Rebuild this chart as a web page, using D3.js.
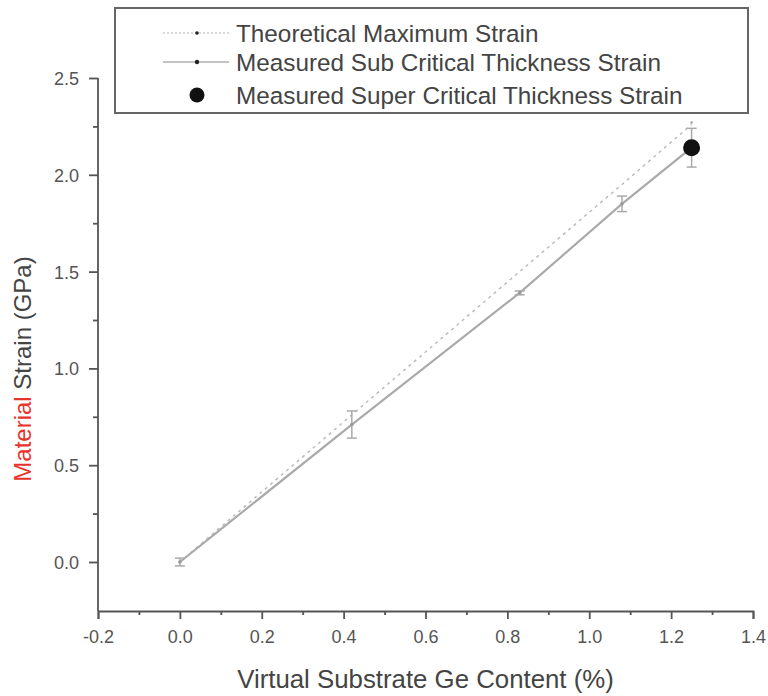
<!DOCTYPE html>
<html>
<head>
<meta charset="utf-8">
<script src="https://cdn.jsdelivr.net/npm/d3@7"></script>
<style>
body { margin: 0; background: #fff; }
svg text { font-family: "Liberation Sans", Arial, sans-serif; }
</style>
</head>
<body>
<div id="chart"></div>
<script>
// data
var geContent = [0, 0.42, 0.83, 1.08, 1.25];
var theoreticalStrain = [0, 0.76, 1.50, 1.95, 2.26];
var measuredSubStrain = [0, 0.71, 1.39, 1.85, 2.14];
var measuredSubErr = [0.02, 0.07, 0.01, 0.04, 0];
var superX = [1.25];
var superStrain = [2.14];
var superErr = [0.1];
var xTicks = [-0.2, 0, 0.2, 0.4, 0.6, 0.8, 1.0, 1.2, 1.4];
var yTicks = [0, 0.5, 1.0, 1.5, 2.0, 2.5];
var legendLabels = ["Theoretical Maximum Strain", "Measured Sub Critical Thickness Strain", "Measured Super Critical Thickness Strain"];

var W = 768, H = 696;
var margin = {left: 98, right: 15, top: 78, bottom: 86};

var svg = d3.select("#chart").append("svg")
	.attr("width", W).attr("height", H);

var x = d3.scaleLinear().domain([-0.2, 1.4]).range([margin.left, 753]);
var y = d3.scaleLinear().domain([0, 2.5]).range([562, 78]);
var yBottom = 611;

var axisColor = "#555";

// x axis
var xAxis = d3.axisBottom(x).tickValues(xTicks).tickSize(8).tickFormat(d3.format(".1f"));
var gx = svg.append("g").attr("transform", "translate(0," + yBottom + ")").call(xAxis);
gx.selectAll(".tick").filter(function(d){ return d === -0.2; }).select("text").text("-0.2");
var gxMinor = svg.append("g").attr("transform", "translate(0," + yBottom + ")")
	.call(d3.axisBottom(x).tickValues(d3.range(-0.1, 1.4, 0.2)).tickSize(4).tickFormat(""));
gxMinor.select(".domain").remove();

// y axis
var yAxis = d3.axisLeft(y).tickValues(yTicks).tickSize(9).tickFormat(d3.format(".1f"));
var gy = svg.append("g").attr("transform", "translate(" + margin.left + ",0)").call(yAxis);
gy.select(".domain").attr("d", "M0," + y(2.5) + "V" + yBottom);
var gyMinor = svg.append("g").attr("transform", "translate(" + margin.left + ",0)")
	.call(d3.axisLeft(y).tickValues([0.25, 0.75, 1.25, 1.75, 2.25]).tickSize(5).tickFormat(""));
gyMinor.select(".domain").remove();

[gx, gy, gxMinor, gyMinor].forEach(function(g){
	g.selectAll("path,line").attr("stroke", axisColor).attr("stroke-width", 1.8);
	g.selectAll("text").attr("fill", "#555").style("font-size", "18px");
});
gx.selectAll("text").attr("y", 0).attr("dy", 0).attr("transform", "translate(0,32)");
gy.selectAll("text").attr("x", -19).attr("dy", "0.36em");

// axis titles
svg.append("text")
	.attr("x", (x(-0.2) + x(1.4)) / 2).attr("y", 688)
	.attr("text-anchor", "middle")
	.attr("fill", "#444").style("font-size", "25.8px")
	.text("Virtual Substrate Ge Content (%)");

var yTitle = svg.append("text")
	.attr("transform", "translate(31,369) rotate(-90)")
	.attr("text-anchor", "middle")
	.style("font-size", "24px");
yTitle.append("tspan").attr("fill", "#e8332d").text("Material ");
yTitle.append("tspan").attr("fill", "#444").text("Strain (GPa)");

// theoretical line (dotted)
var line = d3.line().x(function(d){ return x(d[0]); }).y(function(d){ return y(d[1]); });
var theo = d3.zip(geContent, theoreticalStrain);
svg.append("path").datum(theo)
	.attr("d", line).attr("fill", "none")
	.attr("stroke", "#bbb").attr("stroke-width", 1.5).attr("stroke-dasharray", "3,4");
svg.selectAll(".theoDot").data(theo.slice(4)).enter().append("circle")
	.attr("cx", function(d){ return x(d[0]); }).attr("cy", function(d){ return y(d[1]) - 2; })
	.attr("r", 1.2).attr("fill", "#999");

// measured sub critical
var sub = d3.zip(geContent, measuredSubStrain, measuredSubErr);
svg.append("path").datum(sub)
	.attr("d", line).attr("fill", "none")
	.attr("stroke", "#aaa").attr("stroke-width", 2.2);

function errorBars(data, color){
	var g = svg.append("g").attr("stroke", color).attr("stroke-width", 1.5);
	data.filter(function(d){ return d[2] > 0; }).forEach(function(d){
		var cx = x(d[0]), y1 = y(d[1] + d[2]), y2 = y(d[1] - d[2]);
		g.append("line").attr("x1", cx).attr("x2", cx).attr("y1", y1).attr("y2", y2);
		g.append("line").attr("x1", cx - 5).attr("x2", cx + 5).attr("y1", y1).attr("y2", y1);
		g.append("line").attr("x1", cx - 5).attr("x2", cx + 5).attr("y1", y2).attr("y2", y2);
	});
}
errorBars(sub, "#aaa");
svg.selectAll(".subDot").data(sub).enter().append("circle")
	.attr("cx", function(d){ return x(d[0]); }).attr("cy", function(d){ return y(d[1]); })
	.attr("r", 1.8).attr("fill", "#999");

// measured super critical
var sup = d3.zip(superX, superStrain, superErr);
errorBars(sup, "#aaa");
svg.selectAll(".supDot").data(sup).enter().append("circle")
	.attr("cx", function(d){ return x(d[0]); }).attr("cy", function(d){ return y(d[1]); })
	.attr("r", 8.5).attr("fill", "#111");

// legend
var lg = svg.append("g");
lg.append("rect").attr("x", 115).attr("y", 8).attr("width", 633).attr("height", 105)
	.attr("fill", "#fff").attr("stroke", "#666").attr("stroke-width", 2);
var rowY = [33, 62, 95];
lg.append("line").attr("x1", 163).attr("x2", 229).attr("y1", rowY[0]).attr("y2", rowY[0])
	.attr("stroke", "#ccc").attr("stroke-width", 1.5).attr("stroke-dasharray", "2,2");
lg.append("circle").attr("cx", 197).attr("cy", rowY[0]).attr("r", 1.8).attr("fill", "#222");
lg.append("line").attr("x1", 163).attr("x2", 229).attr("y1", rowY[1]).attr("y2", rowY[1])
	.attr("stroke", "#888").attr("stroke-width", 1.2);
lg.append("circle").attr("cx", 197).attr("cy", rowY[1]).attr("r", 2.2).attr("fill", "#222");
lg.append("circle").attr("cx", 197).attr("cy", rowY[2]).attr("r", 7.5).attr("fill", "#111");
lg.selectAll(".lgText").data(legendLabels).enter().append("text")
	.attr("x", 236).attr("y", function(d, i){ return rowY[i]; })
	.attr("dy", "0.36em")
	.attr("fill", "#444").style("font-size", "24.3px")
	.text(function(d){ return d; });
</script>
</body>
</html>
